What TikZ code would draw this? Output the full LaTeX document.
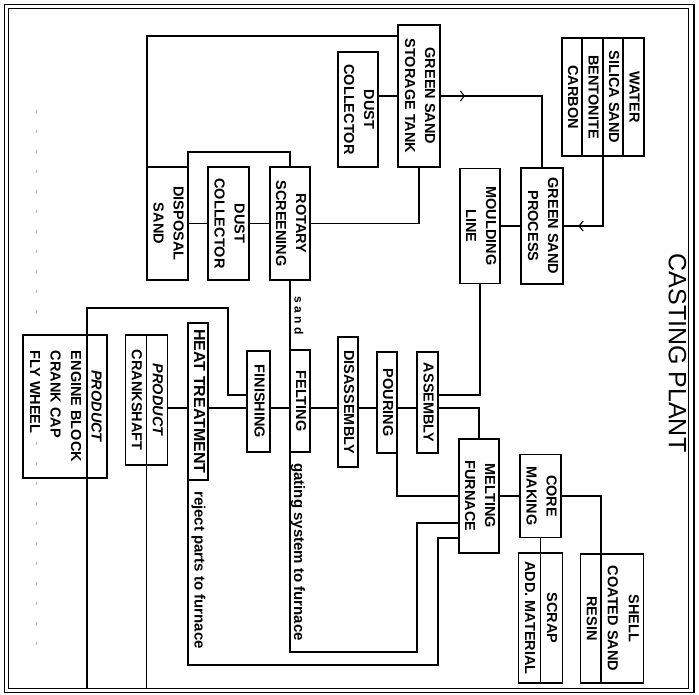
\documentclass[tikz,border=0pt]{standalone}
\usepackage{fontspec}
\setmainfont{Liberation Sans}
\usepackage{graphicx}
\usetikzlibrary{backgrounds,calc,decorations.markings,arrows.meta}
\newcommand{\rtx}[1]{\rotatebox{-90}{\begin{tabular}{@{}c@{}}#1\end{tabular}}}
\newcommand{\rtl}[1]{\rotatebox{-90}{\begin{tabular}{@{}l@{}}#1\end{tabular}}}
\begin{document}
\begin{tikzpicture}[x=1pt,y=-1pt,line join=miter,
  box/.style={draw,line width=1.4pt,fill=white,inner sep=0pt,outer sep=0pt,
    font=\bfseries\fontsize{14.5}{20}\selectfont},
  conn/.style={line width=1.4pt},
  lbl/.style={inner sep=0pt,font=\bfseries\fontsize{15}{18}\selectfont},
  flowmark/.style={postaction={decorate},decoration={markings,
    mark=at position #1 with {\arrow{Straight Barb[length=4pt,width=10pt,line width=1.1pt]}}}},
  dotline/.style={line width=1pt,gray!60,dash pattern=on 3pt off 17pt}]
\useasboundingbox (0,0) rectangle (699,695);
% frame
\draw[line width=1.8pt] (4.5,4.5) rectangle (694,692.5);
\draw[line width=1.1pt] (8.5,8.7) rectangle (688.5,688.5);
% title
\node[inner sep=0pt,font=\fontsize{25}{30}\selectfont] (title) at (677.5,353) {\rotatebox{-90}{CASTING PLANT}};
% boxes
\node[box,minimum width=42pt,minimum height=142pt] (gst) at (419,96) {\rtx{GREEN SAND\\STORAGE TANK}};
\node[box,minimum width=40pt,minimum height=115pt] (dc1) at (358,109.5) {\rtx{DUST\\COLLECTOR}};
\node[box,minimum width=82pt,minimum height=118pt,font=\bfseries\fontsize{14.5}{20.5}\selectfont] (mix) at (603,97) {\rtx{WATER\\SILICA SAND\\BENTONITE\\CARBON}};
\node[box,minimum width=42pt,minimum height=116pt] (gsp) at (542,226) {\rtx{GREEN SAND\\PROCESS}};
\node[box,minimum width=40pt,minimum height=115pt] (ml) at (480,226) {\rtx{MOULDING\\LINE}};
\node[box,minimum width=40pt,minimum height=113pt] (rs) at (290,223.5) {\rtx{ROTARY\\SCREENING}};
\node[box,minimum width=41pt,minimum height=113pt] (dc2) at (228.5,223.5) {\rtx{DUST\\COLLECTOR}};
\node[box,minimum width=41pt,minimum height=113pt] (ds) at (167.5,223.5) {\rtx{DISPOSAL\\SAND}};
\node[box,minimum width=23pt,minimum height=101pt] (fin) at (258.5,401.5) {\rtx{FINISHING}};
\node[box,minimum width=20pt,minimum height=102pt] (fel) at (300,401) {\rtx{FELTING}};
\node[box,minimum width=20pt,minimum height=130pt] (dis) at (348,402) {\rtx{DISASSEMBLY}};
\node[box,minimum width=20pt,minimum height=101pt] (pou) at (387,402.5) {\rtx{POURING}};
\node[box,minimum width=21pt,minimum height=101pt] (asm) at (427.5,402.5) {\rtx{ASSEMBLY}};
\node[box,minimum width=40pt,minimum height=114pt] (mf) at (479,496) {\rtx{MELTING\\FURNACE}};
\node[box,minimum width=41pt,minimum height=83pt] (cm) at (540.5,496) {\rtx{CORE\\MAKING}};
\node[box,minimum width=62pt,minimum height=129pt,font=\bfseries\fontsize{14.5}{21}\selectfont] (shell) at (612,618.5) {\rtx{SHELL\\COATED SAND\\RESIN}};
\node[box,minimum width=41pt,minimum height=130pt,font=\bfseries\fontsize{14.5}{22}\selectfont] (scrap) at (540.5,618) {\rtx{SCRAP\\ADD. MATERIAL}};
\node[box,minimum width=20pt,minimum height=157pt,font=\bfseries\fontsize{16}{19}\selectfont] (ht) at (198,401.5) {\rtx{HEAT TREATMENT}};
\node[box,minimum width=41pt,minimum height=130pt,font=\bfseries\fontsize{14.5}{21}\selectfont] (pc) at (146.5,400) {\rtx{\textit{PRODUCT}\\CRANKSHAFT}};
\node[box,minimum width=84pt,minimum height=143pt,font=\bfseries\fontsize{14.5}{20.5}\selectfont] (pe) at (65,406.5) {\rtl{\multicolumn{1}{@{}c@{}}{\textit{PRODUCT}}\\ENGINE BLOCK\\CRANK CAP\\FLY WHEEL}};
% labels
\node[inner sep=0pt,font=\bfseries\fontsize{12}{14}\selectfont] (sandlbl) at (299,316) {\rotatebox{-90}{s a n d}};
\node[lbl] (gatelbl) at (298,552) {\rotatebox{-90}{gating system to furnace}};
\node[lbl] (rejlbl) at (198.5,570) {\rotatebox{-90}{reject parts to furnace}};
% coordinates
\coordinate (fb) at (0,688.5);
\coordinate (gA) at (417,652);
\coordinate (rA) at (438,665);
\coordinate (fbend) at (228,308);
\coordinate (petop) at ($(pe.north west)!0.762!(pe.north east)$);
\coordinate (pebot) at ($(pe.south west)!0.762!(pe.south east)$);
\coordinate (shtop) at ($(shell.north west)!0.323!(shell.north east)$);
\coordinate (d1) at (36,110);
\coordinate (d2) at (36,330);
\coordinate (d3) at (36,442);
\coordinate (d4) at (36,646);
% connectors
\begin{scope}[on background layer]
\draw[conn] ([yshift=-11pt]gst.north west) -| (ds.north west);
\draw[conn] (dc1.east |- gst.west) -- (gst.west);
\draw[conn,flowmark=0.144] (gst.east) -| (gsp.north);
\draw[conn,flowmark=0.86] (mix.south) |- (gsp.east);
\draw[conn] (ml.east) -- (gsp.west);
\draw[conn] (gst.south) |- (rs.east);
\draw[conn] (rs.west) -- (dc2.east);
\draw[conn] (dc2.west) -- (ds.east);
\draw[conn] (rs.north) -- ++(0,-15) -| (ds.north east);
\draw[conn] (rs.south) -- (fel.north west);
\draw[conn] (fel.south west) |- (gA) |- ([yshift=-27pt]mf.west);
\draw[conn] (ht.south west) |- (rA) |- ([yshift=-42pt]mf.west);
\draw[conn] ([yshift=-8pt]pc.east) -| (mf.north);
\draw[conn] (ml.south) |- ([yshift=7.5pt]asm.east);
\draw[conn] (pou.south east) |- (mf.west);
\draw[conn] (mf.east) -- (cm.west);
\draw[conn] (cm.east) -| (shtop);
\draw[conn] (cm.south) -- (scrap.north);
\draw[conn] ([yshift=6.5pt]fin.west) -| (fbend) -| (petop);
\draw[conn] (pc.south) -- (pc.south |- fb);
\draw[conn] (pebot) -- (pebot |- fb);
\end{scope}
% dividers
\draw[conn] ($(mix.north west)!0.244!(mix.north east)$) -- ($(mix.south west)!0.244!(mix.south east)$);
\draw[conn] (mix.north) -- (mix.south);
\draw[conn] ($(mix.north west)!0.744!(mix.north east)$) -- ($(mix.south west)!0.744!(mix.south east)$);
\draw[conn] (shtop) -- (shtop |- shell.south);
\draw[conn] (scrap.north) -- (scrap.south);
\draw[conn] (pc.north) -- (pc.south);
\draw[conn] (petop) -- (pebot);
% dotted trail
\draw[dotline] (d1) -- (d2);
\draw[dotline] (d3) -- (d4);
\end{tikzpicture}
\end{document}
